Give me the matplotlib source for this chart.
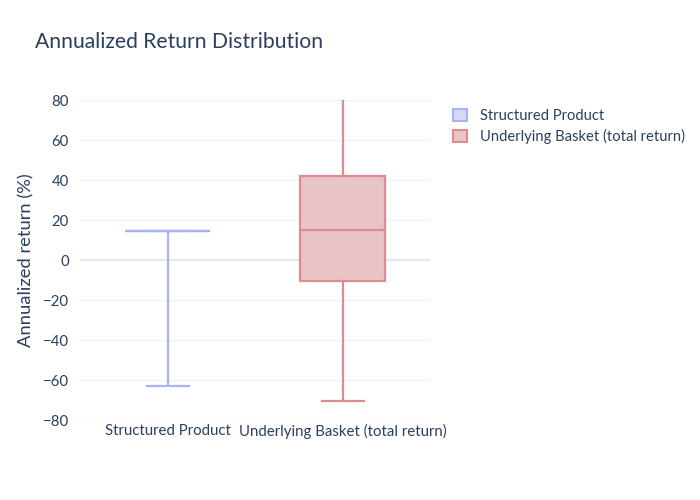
import matplotlib.pyplot as plt
from matplotlib.patches import Patch

plt.rcParams['font.family'] = ['Lato', 'DejaVu Sans']

# data
names = ['Structured Product', 'Underlying Basket (total return)']
lower = [-63, -70.3]
q1 = [14.5, -10.3]
median = [14.5, 14.8]
q3 = [14.5, 42.2]
upper = [14.5, 80]
yticks = [-80, -60, -40, -20, 0, 20, 40, 60, 80]

line_cols = ['#a8b2f6', '#da8c8f']
fill_cols = ['#d5dafb', '#e8c4c6']
txt = '#2a3f5f'

fig = plt.figure(figsize=(7, 5), dpi=100)
ax = fig.add_axes([80 / 700, 80 / 500, 350 / 700, 320 / 500])

stats = []
for i in range(len(names)):
    stats.append(dict(label=names[i], whislo=lower[i], q1=q1[i], med=median[i],
                      q3=q3[i], whishi=upper[i]))

bp = ax.bxp(stats, positions=[0, 1], widths=0.486, patch_artist=True,
            showfliers=False, capwidths=0.24, zorder=3)
for i in range(len(names)):
    c = line_cols[i]
    bp['boxes'][i].set(facecolor=fill_cols[i], edgecolor=c, linewidth=1.6)
    bp['medians'][i].set(color=c, linewidth=1.6)
    for w in bp['whiskers'][2 * i:2 * i + 2]:
        w.set(color=c, linewidth=1.6)
    for cp in bp['caps'][2 * i:2 * i + 2]:
        cp.set(color=c, linewidth=1.6)
# upper cap of basket sits on the plot edge and is clipped in the original
bp['caps'][3].set_visible(False)

ax.set_xlim(-0.5, 1.5)
ax.set_ylim(-80, 80)
ax.set_yticks(yticks)
ax.set_yticklabels(['\u2212' + str(-t) if t < 0 else str(t) for t in yticks])
ax.set_xticks([0, 1])
ax.set_xticklabels(names)
for s in ax.spines.values():
    s.set_visible(False)
ax.tick_params(length=0, labelsize=10.8, colors=txt, pad=8)
ax.tick_params(axis='x', pad=3)
ax.grid(axis='y', color='#eef1f7', linewidth=1, zorder=0)
ax.axhline(0, color='#e3e8f1', linewidth=1.5, zorder=1)
ax.set_axisbelow(True)
ax.set_ylabel('Annualized return (%)', fontsize=13.2, color=txt, labelpad=6)

fig.text(35 / 700, 1 - 42 / 500, 'Annualized Return Distribution', fontsize=15.2,
         color=txt, va='center', ha='left')

handles = [Patch(facecolor=fill_cols[i], edgecolor=line_cols[i], linewidth=1.5,
                 label=names[i]) for i in range(len(names))]
fig.legend(handles=handles, loc='upper left', bbox_to_anchor=(440 / 700, 1 - 96 / 500),
           frameon=False, fontsize=10.6, labelcolor=txt, handlelength=0.9,
           handleheight=0.9, handletextpad=0.9, labelspacing=0.4)

fig.savefig('out.png', dpi=100)
